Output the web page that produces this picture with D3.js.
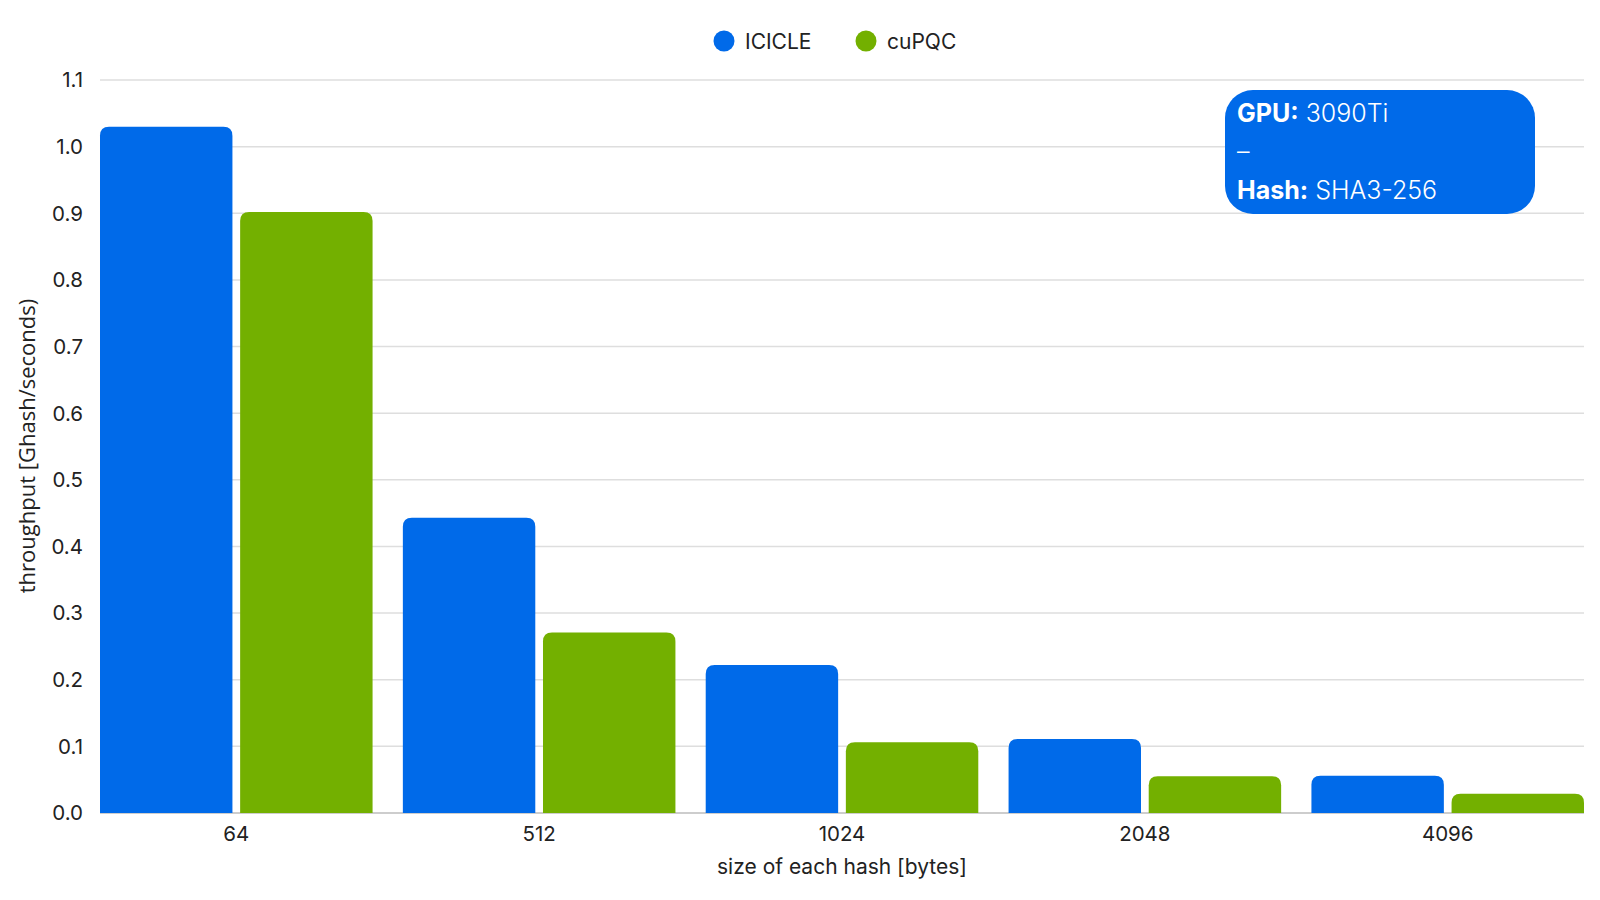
<!DOCTYPE html>
<html>
<head>
<meta charset="utf-8">
<script src="https://cdn.jsdelivr.net/npm/d3@7"></script>
<style>
  body { margin: 0; background: #fff; }
  text { font-family: Inter, "Open Sans", sans-serif; fill: #222; }
</style>
</head>
<body>
<div id="chart"></div>
<script>
// hash sizes (bytes) along the x axis
var sizes = ["64", "512", "1024", "2048", "4096"];
var seriesNames = ["ICICLE", "cuPQC"];
// throughput in Ghash/s
var icicle = [1.03, 0.443, 0.222, 0.111, 0.056];
var cupqc = [0.902, 0.271, 0.106, 0.055, 0.029];
var yTicks = [0, 0.1, 0.2, 0.3, 0.4, 0.5, 0.6, 0.7, 0.8, 0.9, 1.0, 1.1];
var colors = ["#006AE9", "#73B000"];

var w = 1600,
    h = 900;
var margin = {top: 80, right: 16, bottom: 87, left: 100};

var svg = d3.select("#chart").append("svg")
    .attr("width", w)
    .attr("height", h);

var x = d3.scaleBand()
    .domain(sizes)
    .range([margin.left, w - margin.right])
    .paddingInner(0.1)
    .paddingOuter(0);

var xs = d3.scaleBand()
    .domain(seriesNames)
    .range([0, x.bandwidth()])
    .paddingInner(0.055);

var y = d3.scaleLinear()
    .domain([0, 1.1])
    .range([h - margin.bottom, margin.top]);

//gridlines
svg.append("g").selectAll("line")
    .data(yTicks)
    .enter().append("line")
    .attr("x1", margin.left)
    .attr("x2", w - margin.right)
    .attr("y1", function(d){ return y(d); })
    .attr("y2", function(d){ return y(d); })
    .attr("stroke", function(d){ return d === 0 ? "#bdbdbd" : "#dedede"; })
    .attr("stroke-width", 1.5);

//y tick labels
svg.append("g").selectAll("text")
    .data(yTicks)
    .enter().append("text")
    .attr("x", 83)
    .attr("y", function(d){ return y(d); })
    .attr("dy", "0.36em")
    .attr("text-anchor", "end")
    .attr("font-size", 20.5)
    .text(d3.format(".1f"));

//x tick labels
svg.append("g").selectAll("text")
    .data(sizes)
    .enter().append("text")
    .attr("x", function(d){ return x(d) + x.bandwidth() / 2; })
    .attr("y", y(0) + 28)
    .attr("text-anchor", "middle")
    .attr("font-size", 20.5)
    .text(function(d){ return d; });

//bars with rounded tops
function topRounded(x0, y0, bw, bh, r) {
  r = Math.min(r, bh, bw / 2);
  return "M" + x0 + "," + (y0 + bh) +
    "V" + (y0 + r) +
    "Q" + x0 + "," + y0 + " " + (x0 + r) + "," + y0 +
    "H" + (x0 + bw - r) +
    "Q" + (x0 + bw) + "," + y0 + " " + (x0 + bw) + "," + (y0 + r) +
    "V" + (y0 + bh) + "Z";
}

var allSeries = [icicle, cupqc];
allSeries.forEach(function(vals, si) {
  svg.append("g").selectAll("path")
    .data(vals)
    .enter().append("path")
    .attr("fill", colors[si])
    .attr("d", function(d, i){
      var bx = x(sizes[i]) + xs(seriesNames[si]);
      return topRounded(bx, y(d), xs.bandwidth(), y(0) - y(d), 9);
    });
});

//legend
var legend = svg.append("g");
var legendX = [724, 866];
seriesNames.forEach(function(name, i) {
  legend.append("circle")
    .attr("cx", legendX[i])
    .attr("cy", 41)
    .attr("r", 10.5)
    .attr("fill", colors[i]);
  legend.append("text")
    .attr("x", legendX[i] + 21)
    .attr("y", 41)
    .attr("dy", "0.36em")
    .attr("font-size", 21)
    .text(name);
});

//axis titles
svg.append("text")
    .attr("x", (margin.left + w - margin.right) / 2)
    .attr("y", 874)
    .attr("text-anchor", "middle")
    .attr("font-size", 21)
    .text("size of each hash [bytes]");

svg.append("text")
    .attr("transform", "translate(35," + 446 + ") rotate(-90)")
    .attr("text-anchor", "middle")
    .attr("font-size", 22)
    .style("font-family", "'Open Sans', sans-serif")
    .text("throughput [Ghash/seconds)");

//annotation box
var note = svg.append("g");
note.append("rect")
    .attr("x", 1225)
    .attr("y", 90)
    .attr("width", 310)
    .attr("height", 124)
    .attr("rx", 28)
    .attr("fill", "#006AE9");

var noteLines = [["GPU:", " 3090Ti"], ["", "–"], ["Hash:", " SHA3-256"]];
var noteY = [122, 160, 199];
noteLines.forEach(function(l, i) {
  var t = note.append("text")
    .attr("x", 1237)
    .attr("y", noteY[i])
    .attr("font-size", 25)
    .style("fill", "#fff");
  t.append("tspan").attr("font-weight", "bold").style("fill", "#fff").text(l[0]);
  t.append("tspan").attr("font-weight", 300).style("fill", "#fff").text(l[1]);
});
</script>
</body>
</html>
